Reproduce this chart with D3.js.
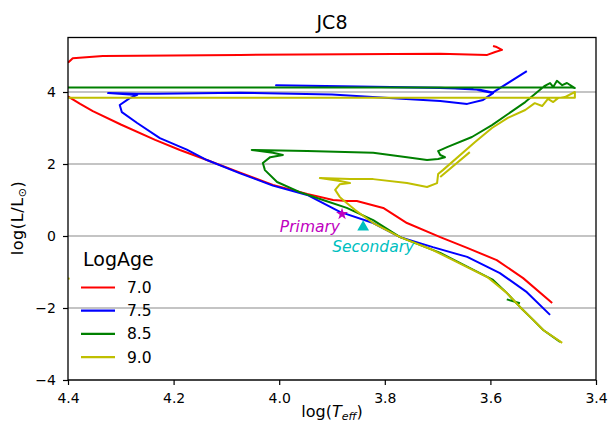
<!DOCTYPE html>
<html><head><meta charset="utf-8">
<script src="https://cdn.jsdelivr.net/npm/d3@7"></script>
<style>body{margin:0;background:#fff} svg{display:block;font-family:"DejaVu Sans",sans-serif}</style>
</head><body><svg id="c" width="610" height="429"></svg>
<script>
const title = "JC8";
const ageLabels = ["7.0","7.5","8.5","9.0"];
const ageColors = ["#ff0000","#0000ff","#008000","#bfbf00"];
const xTicks = [4.4,4.2,4.0,3.8,3.6,3.4];
const yTicks = [-4,-2,0,2,4];

// isochrones: [logTeff, logL]; null breaks a line
const iso70 = [[3.483,-1.86],[3.538,-1.17],[3.588,-0.67],[3.644,-0.33],[3.695,-0.03],[3.758,0.36],[3.803,0.78],[3.853,0.97],[3.872,0.97],[3.898,1.0],[3.947,1.17],[4.012,1.42],[4.074,1.76],[4.137,2.11],[4.188,2.39],[4.235,2.67],[4.299,3.09],[4.353,3.47],[4.377,3.67],[4.398,3.86],[4.45,4.12],[4.44,4.5],[4.415,4.75],[4.398,4.84],[4.391,4.94],[4.334,5.0],[4.074,5.03],[3.695,5.06],[3.606,5.03],[3.591,5.11],[3.578,5.17],[3.588,5.25],[3.595,5.28]];
const iso75 = [[3.487,-2.19],[3.531,-1.56],[3.582,-1.03],[3.601,-0.89],[3.644,-0.58],[3.709,-0.31],[3.771,-0.03],[3.822,0.36],[3.885,0.67],[3.947,1.14],[4.012,1.40],[4.074,1.74],[4.137,2.11],[4.175,2.40],[4.226,2.72],[4.269,3.14],[4.298,3.44],[4.302,3.64],[4.283,3.83],[4.269,3.92],[4.324,3.97],[4.270,3.95],[4.233,3.95],[4.074,3.98],[3.90,3.93],[3.792,3.83],[3.695,3.75],[3.644,3.67],[3.614,3.78],[3.595,3.97],[3.605,4.0],[3.633,4.08],[3.695,4.11],[4.006,4.19],[3.695,4.12],[3.62,4.06],[3.595,3.99],[3.531,4.58]];
const iso85 = [[3.468,-2.94],[3.500,-2.61],[3.519,-2.33],[3.544,-1.97],[3.569,-1.58],[3.595,-1.22],[3.695,-0.47],[3.771,-0.03],[3.822,0.44],[3.872,0.78],[3.917,1.0],[3.961,1.22],[4.004,1.5],[4.027,1.83],[4.031,2.03],[4.017,2.19],[3.993,2.25],[4.012,2.31],[4.052,2.39],[3.947,2.36],[3.822,2.31],[3.758,2.19],[3.720,2.11],[3.699,2.14],[3.686,2.19],[3.695,2.25],[3.699,2.36],[3.682,2.47],[3.635,2.75],[3.597,3.08],[3.534,3.72],[3.502,4.11],[3.497,4.17],[3.487,4.25],[3.481,4.14],[3.474,4.31],[3.464,4.19],[3.455,4.25],[3.44,4.11],[3.445,4.125],[4.5,4.125],
  null,[3.569,-1.76],[3.544,-1.87]];
const iso90 = [[3.464,-2.97],[3.500,-2.61],[3.519,-2.33],[3.544,-1.97],[3.569,-1.58],[3.606,-1.14],[3.709,-0.39],[3.771,-0.03],[3.822,0.36],[3.856,0.72],[3.879,1.0],[3.885,1.08],[3.894,1.28],[3.885,1.44],[3.866,1.47],[3.885,1.53],[3.923,1.61],[3.866,1.58],[3.822,1.58],[3.758,1.47],[3.720,1.36],[3.701,1.47],[3.699,1.72],[3.690,1.83],[3.629,2.61],[3.597,3.0],[3.567,3.28],[3.534,3.5],[3.516,3.69],[3.502,3.61],[3.491,3.81],[3.481,3.72],[3.472,3.83],[3.459,3.86],[3.440,4.0],[3.440,3.84],[4.5,3.84],
  null,[3.695,1.64],[3.639,2.33],
  null,[4.41,-1.16],[4.397,-1.19]];
const isochrones = [iso70, iso75, iso85, iso90];

const stars = [{name:"Primary", teff:3.881, L:0.61, color:"#bf00bf"},
               {name:"Secondary", teff:3.841, L:0.25, color:"#00bfbf"}];

const svg = d3.select("#c");
const L = 68, R = 596, T = 37.5, B = 380;
const x = d3.scaleLinear().domain([4.4,3.4]).range([L,R]);
const y = d3.scaleLinear().domain([-4,5.514]).range([B,T]);

svg.append("defs").append("clipPath").attr("id","clip")
  .append("rect").attr("x",L).attr("y",T).attr("width",R-L).attr("height",B-T);

// grid
svg.append("g").selectAll("line").data(yTicks).join("line")
  .attr("x1",L).attr("x2",R).attr("y1",d=>y(d)).attr("y2",d=>y(d))
  .attr("stroke","#b0b0b0").attr("stroke-width",1.5);

const line = d3.line().defined(d=>d!==null).x(d=>x(d[0])).y(d=>y(d[1]));
const g = svg.append("g").attr("clip-path","url(#clip)");
isochrones.forEach((iso,i)=>{
  g.append("path").attr("d",line(iso)).attr("fill","none")
   .attr("stroke",ageColors[i]).attr("stroke-width",2).attr("stroke-linejoin","round");
});

// markers
svg.append("path").attr("d",d3.symbol(d3.symbolStar,45)())
  .attr("transform",`translate(${x(stars[0].teff)},${y(stars[0].L)})`).attr("fill",stars[0].color);
svg.append("path").attr("d",d3.symbol(d3.symbolTriangle,60)())
  .attr("transform",`translate(${x(stars[1].teff)},${y(stars[1].L)})`).attr("fill",stars[1].color);
svg.append("text").attr("x",x(stars[0].teff)-2).attr("y",y(stars[0].L)+17.5)
  .attr("text-anchor","end").attr("font-size",15.5).attr("font-style","italic")
  .attr("fill",stars[0].color).text(stars[0].name);
svg.append("text").attr("x",x(stars[1].teff)-31).attr("y",y(stars[1].L)+24.5)
  .attr("text-anchor","start").attr("font-size",15.5).attr("font-style","italic")
  .attr("fill",stars[1].color).text(stars[1].name);

// axes
const xa = svg.append("g").attr("transform",`translate(0,${B})`)
  .call(d3.axisBottom(x).tickValues(xTicks).tickFormat(d3.format(".1f")).tickSize(5).tickPadding(8).tickSizeOuter(0));
const ya = svg.append("g").attr("transform",`translate(${L},0)`)
  .call(d3.axisLeft(y).tickValues(yTicks).tickFormat(d=>d<0?"\u2212"+Math.abs(d):String(d)).tickSize(5).tickPadding(7).tickSizeOuter(0));
[xa,ya].forEach(a=>{
  a.selectAll("text").attr("font-size",14).attr("font-family","DejaVu Sans").attr("fill","#000");
  a.selectAll("line").attr("stroke","#000").attr("stroke-width",1.2);
  a.select(".domain").remove();
});
svg.append("rect").attr("x",L).attr("y",T).attr("width",R-L).attr("height",B-T)
  .attr("fill","none").attr("stroke","#000").attr("stroke-width",1.3);

// title & labels
svg.append("text").attr("x",(L+R)/2).attr("y",29).attr("text-anchor","middle")
  .attr("font-size",19).text(title);
const xl = svg.append("text").attr("x",(L+R)/2).attr("y",417).attr("text-anchor","middle").attr("font-size",16);
xl.append("tspan").text("log(");
xl.append("tspan").attr("font-style","italic").text("T");
xl.append("tspan").attr("font-style","italic").attr("font-size",11).attr("dy",3).text("eff");
xl.append("tspan").attr("dy",-3).text(")");
const yl = svg.append("text").attr("transform","translate(23,218) rotate(-90)").attr("text-anchor","middle")
  .attr("font-size",16).attr("letter-spacing",0.6);
yl.append("tspan").text("log(L/L");
yl.append("tspan").attr("font-size",11).attr("dy",3).text("\u2299");
yl.append("tspan").attr("dy",-3).text(")");

// legend
const lg = svg.append("g");
lg.append("text").attr("x",83).attr("y",266).attr("font-size",19).text("LogAge");
ageLabels.forEach((a,i)=>{
  const yy = 287.5 + i*23.2;
  lg.append("line").attr("x1",81).attr("x2",115).attr("y1",yy).attr("y2",yy)
    .attr("stroke",ageColors[i]).attr("stroke-width",2.2);
  lg.append("text").attr("x",127).attr("y",yy+5.5).attr("font-size",15.5).text(a);
});
</script></body></html>
